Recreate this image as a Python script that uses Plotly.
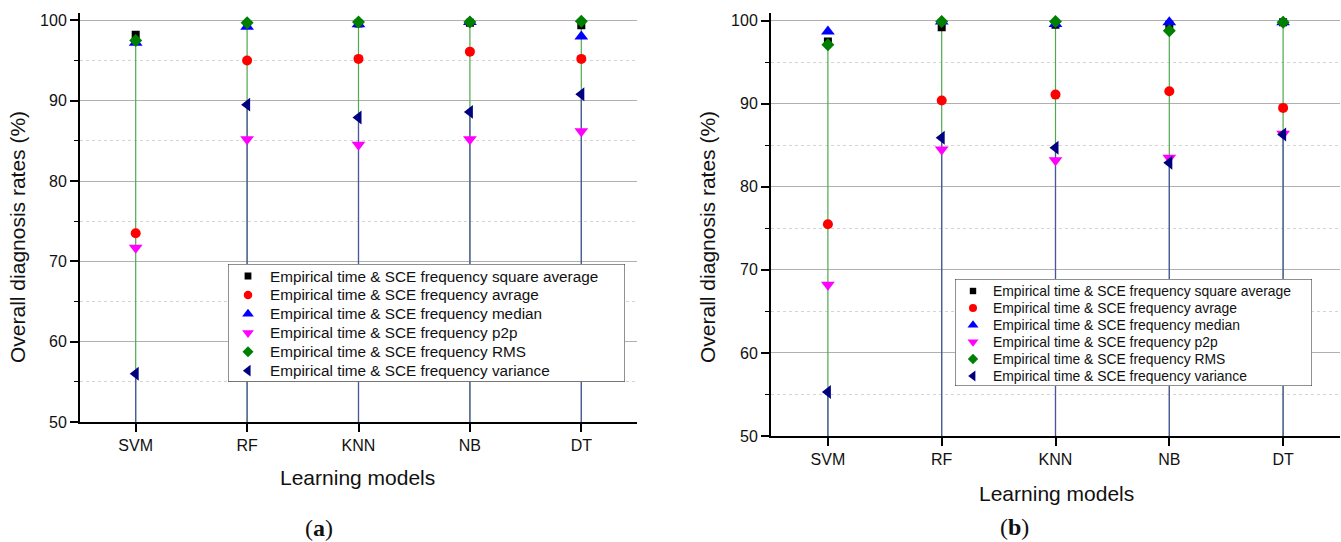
import plotly.graph_objects as go

W, H = 1341, 542

models = ["SVM", "RF", "KNN", "NB", "DT"]
series_names = [
    "Empirical time & SCE frequency square average",
    "Empirical time & SCE frequency avrage",
    "Empirical time & SCE frequency median",
    "Empirical time & SCE frequency p2p",
    "Empirical time & SCE frequency RMS",
    "Empirical time & SCE frequency variance",
]

# panel (a)
a_square = [98.2, 99.5, 99.6, 99.7, 99.4]
a_avg = [73.5, 95.0, 95.2, 96.1, 95.2]
a_median = [97.2, 99.2, 99.5, 99.8, 98.0]
a_p2p = [71.7, 85.2, 84.5, 85.2, 86.2]
a_rms = [97.5, 99.7, 99.8, 99.8, 99.9]
a_var = [56.0, 89.5, 87.9, 88.6, 90.8]

# panel (b)
b_square = [97.5, 99.2, 99.5, 99.5, 99.8]
b_avg = [75.5, 90.4, 91.1, 91.5, 89.5]
b_median = [98.7, 99.9, 99.6, 99.8, 99.8]
b_p2p = [68.2, 84.5, 83.2, 83.5, 86.4]
b_rms = [97.1, 99.9, 99.9, 98.8, 99.8]
b_var = [55.3, 85.9, 84.7, 82.9, 86.3]

y_ticks = [50, 60, 70, 80, 90, 100]
Y_MIN = 50

symbols = ["square", "circle", "triangle-up", "triangle-down", "diamond", "triangle-left"]
colors = ["#000000", "#ff0000", "#0000ff", "#ff00ff", "#008000", "#000080"]
sizes = [8, 10, 12, 12, 10, 12]

FONT = "Liberation Sans, Arial, sans-serif"

fig = go.Figure()


def px_x(p):
    return p / W


def px_y(p):
    return 1 - p / H


def stems(values):
    xs, ys = [], []
    for m, v in zip(models, values):
        xs += [m, m, None]
        ys += [v, Y_MIN, None]
    return xs, ys


def add_panel(data, xa, ya):
    rms, var = data[4], data[5]
    xs, ys = stems(rms)
    fig.add_trace(go.Scatter(x=xs, y=ys, mode="lines", xaxis=xa, yaxis=ya,
                             line=dict(color="#4fa84f", width=1.2),
                             showlegend=False, hoverinfo="skip"))
    xs, ys = stems(var)
    fig.add_trace(go.Scatter(x=xs, y=ys, mode="lines", xaxis=xa, yaxis=ya,
                             line=dict(color="#5050a8", width=1.2),
                             showlegend=False, hoverinfo="skip"))
    for name, vals, sym, col, sz in zip(series_names, data, symbols, colors, sizes):
        fig.add_trace(go.Scatter(x=models, y=vals, mode="markers", name=name,
                                 xaxis=xa, yaxis=ya, showlegend=False,
                                 marker=dict(symbol=sym, color=col, size=sz, opacity=1,
                                             line=dict(width=0))))


add_panel([a_square, a_avg, a_median, a_p2p, a_rms, a_var], "x", "y")
add_panel([b_square, b_avg, b_median, b_p2p, b_rms, b_var], "x2", "y2")


# legend boxes drawn on their own small axes (pixel units across, row index down)
def add_legend(xa, ya, box, mark_x, text_x, top_gap, bot_gap, pitch, fsize, scale):
    left, right, top, bottom = box
    n = len(series_names)
    rows = list(range(n))
    y_top = -top_gap / pitch
    y_bot = (n - 1) + bot_gap / pitch
    ax_x = dict(domain=[px_x(left), px_x(right)], range=[0, right - left],
                visible=False, fixedrange=True, automargin=False)
    ax_y = dict(domain=[px_y(bottom), px_y(top)], range=[y_bot, y_top],
                visible=False, fixedrange=True, automargin=False)
    fig.update_layout(**{"xaxis" + xa[1:]: dict(anchor=ya, **ax_x),
                         "yaxis" + ya[1:]: dict(anchor=xa, **ax_y)})
    fig.add_shape(type="rect", xref=xa, yref=ya, x0=0, x1=right - left,
                  y0=y_top, y1=y_bot, layer="below",
                  fillcolor="white", line=dict(color="#222", width=1))
    fig.add_trace(go.Scatter(x=[mark_x] * n, y=rows, mode="markers", xaxis=xa, yaxis=ya,
                             showlegend=False, hoverinfo="skip",
                             marker=dict(symbol=symbols, color=colors, opacity=1,
                                         size=[s * scale for s in sizes],
                                         line=dict(width=0))))
    for r, name in zip(rows, series_names):
        fig.add_annotation(xref=xa, yref=ya, x=text_x, y=r, text=name, showarrow=False,
                           xanchor="left", yanchor="middle",
                           font=dict(family=FONT, size=fsize, color="#111"))


add_legend("x3", "y3", (228, 625, 264, 381.7), 20, 40, 12, 11, 18.94, 15.3, 0.85)
add_legend("x4", "y4", (955, 1312, 279, 386), 18, 36, 12, 10, 17.0, 13.9, 0.8)

xcommon = dict(type="category", range=[-0.5, 4.5], showgrid=False, zeroline=False,
               automargin=False,
               showline=True, linecolor="black", linewidth=2,
               ticks="outside", ticklen=8, tickwidth=1.5, tickcolor="black",
               tickfont=dict(family=FONT, size=16, color="#111"))
ycommon = dict(tickmode="array", tickvals=y_ticks, showgrid=True, gridcolor="#b0b0b0",
               automargin=False,
               gridwidth=1.3, zeroline=False, showline=True, linecolor="black", linewidth=2,
               ticks="outside", ticklen=8, tickwidth=1.5, tickcolor="black",
               tickfont=dict(family=FONT, size=16, color="#111"),
               minor=dict(dtick=5, tick0=50, showgrid=True, gridcolor="#d4d4d4",
                          griddash="dot", gridwidth=1, ticks="outside", ticklen=4,
                          tickcolor="black", tickwidth=1))

fig.update_layout(
    width=W, height=H,
    margin=dict(l=0, r=0, t=0, b=0, autoexpand=False),
    paper_bgcolor="white", plot_bgcolor="white",
    xaxis=dict(domain=[px_x(80), px_x(637)], anchor="y", **xcommon),
    yaxis=dict(domain=[px_y(422), px_y(12.7)], anchor="x", range=[50, 100.95], **ycommon),
    xaxis2=dict(domain=[px_x(771), px_x(1340)], anchor="y2", **xcommon),
    yaxis2=dict(domain=[px_y(436), px_y(12.7)], anchor="x2", range=[50, 100.96], **ycommon),
    showlegend=False,
)

title_font = dict(family=FONT, size=21, color="#111")
cap_font = dict(family="Liberation Serif, Times New Roman, serif", size=24, color="#111")
annots = [
    dict(text="Learning models", x=px_x(357), y=px_y(477), font=title_font),
    dict(text="Learning models", x=px_x(1056), y=px_y(493), font=title_font),
    dict(text="Overall diagnosis rates (%)", x=px_x(18), y=px_y(237), textangle=-90, font=title_font),
    dict(text="Overall diagnosis rates (%)", x=px_x(708), y=px_y(237), textangle=-90, font=title_font),
    dict(text="(<b>a</b>)", x=px_x(319), y=px_y(528), font=cap_font),
    dict(text="(<b>b</b>)", x=px_x(1015), y=px_y(527), font=cap_font),
]
for a in annots:
    fig.add_annotation(xref="paper", yref="paper", showarrow=False,
                       xanchor="center", yanchor="middle", **a)

fig.write_html("out.html", config={"displayModeBar": False},
               post_script="document.body.style.margin='0px';document.body.style.overflow='hidden';")
